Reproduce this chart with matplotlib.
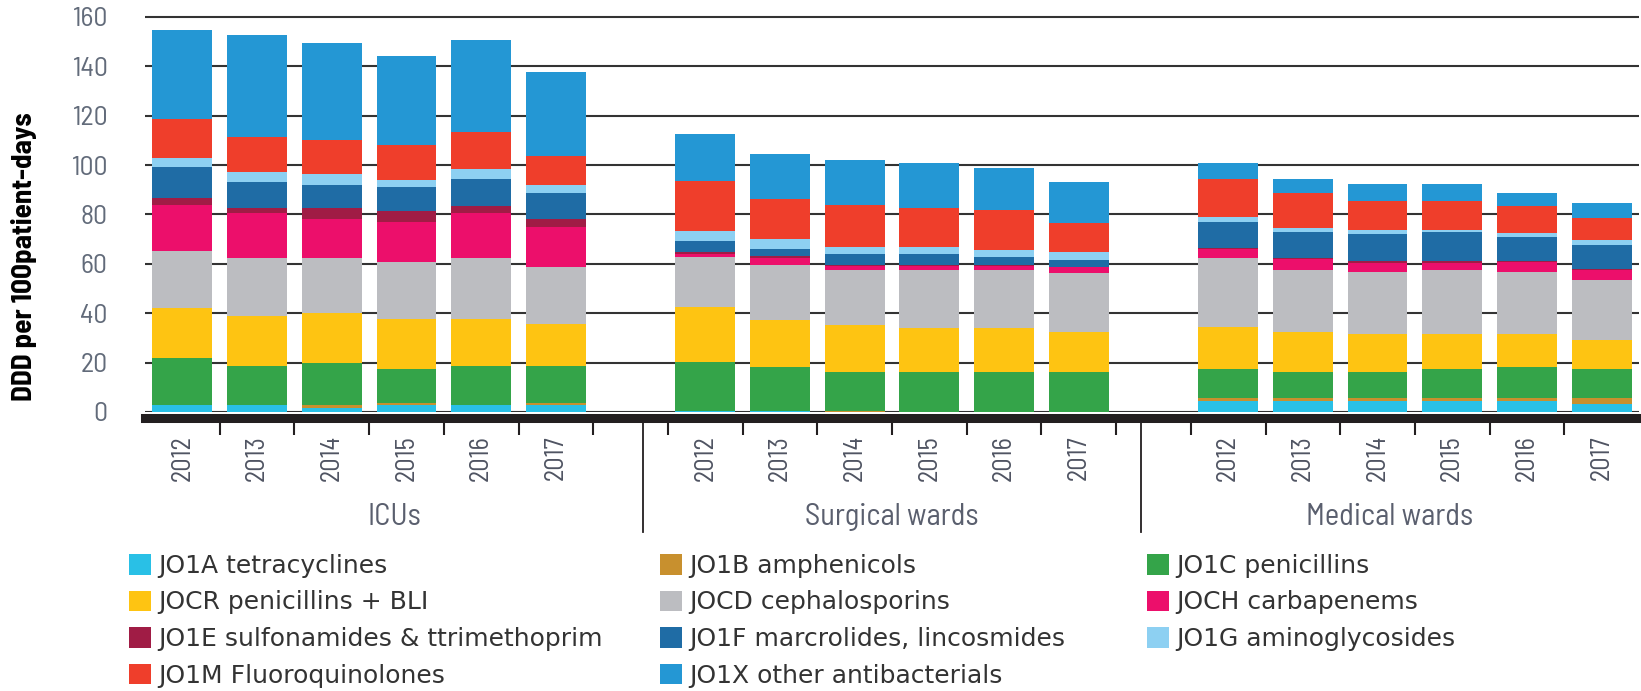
import numpy as np
import matplotlib
matplotlib.use("Agg")
import matplotlib.pyplot as plt
from matplotlib.transforms import blended_transform_factory

# data (DDD per 100 patient-days)
groups = ["ICUs", "Surgical wards", "Medical wards"]
years = ["2012", "2013", "2014", "2015", "2016", "2017"]

classes = ["JO1A tetracyclines", "JO1B amphenicols", "JO1C penicillins",
           "JOCR penicillins + BLI", "JOCD cephalosporins", "JOCH carbapenems",
           "JO1E sulfonamides & ttrimethoprim", "JO1F marcrolides, lincosmides",
           "JO1G aminoglycosides", "JO1M Fluoroquinolones", "JO1X other antibacterials"]
colors = ["#29c0e6", "#c8902e", "#34a449", "#fec412", "#bcbdc1", "#ec0f6b",
          "#a01c45", "#1f6ca5", "#8dd0f2", "#ef3e2b", "#2497d4"]

# one list per class, 18 values: ICU 2012-2017, Surgical 2012-2017, Medical 2012-2017
tetracyclines = [2.7, 2.7, 1.6, 2.7, 2.7, 3.0,  0.5, 0.5, 0.0, 0.0, 0.0, 0.0,  4.5, 4.5, 4.5, 4.5, 4.5, 3.4]
amphenicols = [0.0, 0.0, 1.1, 0.9, 0.0, 0.6,  0.0, 0.0, 0.6, 0.0, 0.0, 0.0,  1.2, 1.2, 1.2, 1.2, 1.2, 2.3]
penicillins = [19.1, 16.0, 17.1, 13.9, 15.8, 14.9,  19.9, 17.9, 15.5, 16.1, 16.1, 16.1,  11.6, 10.5, 10.5, 11.6, 12.5, 11.6]
penicillins_bli = [20.2, 20.2, 20.2, 20.2, 19.2, 17.2,  22.3, 18.9, 19.2, 18.1, 18.1, 16.1,  17.2, 16.2, 15.2, 14.1, 13.2, 11.8]
cephalosporins = [23.4, 23.4, 22.3, 23.2, 24.6, 23.2,  20.0, 22.4, 22.1, 23.2, 23.2, 24.2,  27.7, 25.3, 25.4, 26.3, 25.4, 24.5]
carbapenems = [18.4, 18.2, 15.9, 16.2, 18.2, 16.2,  1.1, 2.7, 1.9, 1.9, 1.9, 2.4,  4.0, 4.1, 3.7, 2.8, 4.0, 3.8]
sulfonamides = [3.0, 2.0, 4.3, 4.3, 2.9, 3.1,  1.0, 0.7, 0.3, 0.3, 0.4, 0.0,  0.4, 0.4, 0.6, 0.6, 0.4, 0.4]
macrolides = [12.5, 10.5, 9.4, 9.6, 10.8, 10.7,  4.3, 2.9, 4.2, 4.2, 3.1, 2.9,  10.4, 10.8, 10.8, 11.9, 9.5, 9.8]
aminoglycosides = [3.4, 4.3, 4.3, 2.9, 4.2, 3.0,  4.1, 4.2, 3.0, 3.0, 3.0, 3.0,  2.1, 1.7, 2.0, 0.9, 2.0, 2.0]
fluoroquinolones = [15.9, 13.9, 13.9, 14.2, 15.1, 11.9,  20.4, 16.0, 17.1, 16.0, 16.1, 11.8,  15.1, 14.1, 11.6, 11.6, 10.7, 8.8]
other = [36.0, 41.5, 39.4, 36.1, 37.0, 33.9,  18.9, 18.1, 18.1, 18.1, 17.0, 16.8,  6.5, 5.4, 6.7, 6.7, 5.5, 6.3]

series = [tetracyclines, amphenicols, penicillins, penicillins_bli, cephalosporins,
          carbapenems, sulfonamides, macrolides, aminoglycosides, fluoroquinolones, other]

NARROW = ["Barlow Semi Condensed", "DejaVu Sans"]
LEGEND_FONT = ["DejaVu Sans"]
plt.rcParams["font.family"] = NARROW

W, H = 1641, 691
fig = plt.figure(figsize=(W / 100, H / 100), dpi=100)
ax = fig.add_axes([145 / W, 1 - 412 / H, (1639 - 145) / W, (412 - 14.5) / H])

# slot positions: one empty slot between groups
xpos = np.concatenate([np.arange(6), np.arange(7, 13), np.arange(14, 20)])
bottom = np.zeros(len(xpos))
bars = []
for vals, col, lab in zip(series, colors, classes):
    vals = np.array(vals)
    b = ax.bar(xpos, vals, 0.8, bottom=bottom, color=col, label=lab, zorder=3)
    bars.append(b)
    bottom += vals

ax.set_xlim(-0.5, 19.5)
ax.set_ylim(0, 161)
ax.set_yticks(range(0, 161, 20))
ax.yaxis.grid(True, color="#333333", lw=1.5)
ax.set_axisbelow(True)
for s in ["top", "right", "left"]:
    ax.spines[s].set_visible(False)
ax.spines["bottom"].set_position(("outward", 4.5))
ax.spines["bottom"].set_linewidth(6.5)
ax.spines["bottom"].set_color("#231f20")

ax.tick_params(axis="y", length=0, pad=27, labelsize=20, labelcolor="#626b7a")
ax.set_xticks(xpos)
ax.set_xticklabels(years * 3, rotation=90)
ax.tick_params(axis="x", which="major", length=0, pad=12, labelsize=19, labelcolor="#4f5462")
ax.set_xticks(np.arange(0.5, 19, 1), minor=True)
ax.tick_params(axis="x", which="minor", length=12, width=1.5, color="#231f20", direction="out")

ax.set_ylabel("DDD per 100patient-days", fontsize=21, fontweight="bold", color="black")
ax.yaxis.set_label_coords(-(145 - 37) / (1639 - 145), (412 - 257) / (412 - 14.5))

# group separators and names
seps = [6.17, 12.83]
tr = blended_transform_factory(ax.transData, fig.transFigure)
for sx in seps:
    ax.plot([sx, sx], [1 - 421 / H, 1 - 532 / H], transform=tr, color="#231f20",
            lw=1.3, clip_on=False)
edges = [-0.5] + seps + [19.5]
for i, g in enumerate(groups):
    ax.text((edges[i] + edges[i + 1]) / 2, 1 - 517 / H, g, transform=tr,
            ha="center", va="center", fontsize=22, color="#5a5f6e")

# legend in three columns
cols = [[0, 3, 6, 9], [1, 4, 7, 10], [2, 5, 8]]
col_x = [129, 660, 1147]
for idx, cx in zip(cols, col_x):
    fig.legend([bars[i] for i in idx], [classes[i] for i in idx], loc="upper left",
               bbox_to_anchor=(cx / W, 1 - 554 / H), frameon=False,
               prop={"family": LEGEND_FONT, "size": 18},
               handlelength=0.88, handleheight=0.88, handletextpad=0.3,
               labelspacing=0.5, borderpad=0, borderaxespad=0, labelcolor="#333333")

fig.savefig("out.png", dpi=100)
